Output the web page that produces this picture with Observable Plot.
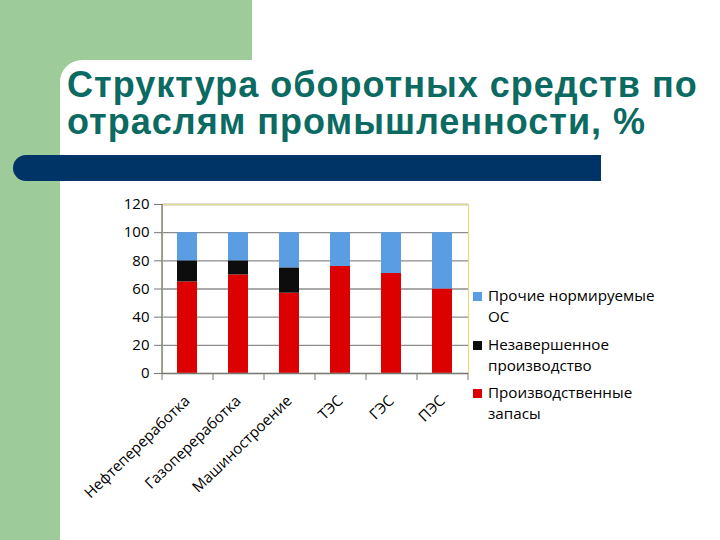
<!DOCTYPE html>
<html><head><meta charset="utf-8">
<script src="https://cdn.jsdelivr.net/npm/d3@7"></script>
<script src="https://cdn.jsdelivr.net/npm/@observablehq/plot@0.6"></script>
<style>
html,body{margin:0;padding:0;}
body{width:720px;height:540px;position:relative;overflow:hidden;background:#9dcb9a;font-family:"Open Sans",sans-serif;}
#white{position:absolute;left:60px;top:60px;width:660px;height:480px;background:#fff;border-top-left-radius:22px;}
#greenTop{position:absolute;left:252px;top:0;width:468px;height:60px;background:#fff;}
#title{position:absolute;left:67px;top:66px;font-family:"Liberation Sans",Arial,sans-serif;font-weight:bold;font-size:36px;letter-spacing:1px;line-height:37px;color:#0b6a62;white-space:nowrap;}
#bar{position:absolute;left:13px;top:155px;width:588px;height:26px;background:#003466;border-top-left-radius:13px;border-bottom-left-radius:13px;}
#chart{position:absolute;left:70px;top:190px;}
#legend{position:absolute;left:472px;top:285px;font-family:"Open Sans",sans-serif;font-size:15.2px;line-height:21px;color:#000;}
.li{position:relative;padding-left:16px;margin-bottom:6.5px;}
.sw{position:absolute;left:1px;top:7px;width:9px;height:9px;}
</style></head>
<body>
<div id="greenTop"></div>
<div id="white"></div>
<div id="title">Структура оборотных средств по<br>отраслям промышленности, %</div>
<div id="bar"></div>
<div id="chart"></div>
<div id="legend"></div>
<script>
const categories = ["Нефтепереработка","Газопереработка","Машиностроение","ТЭС","ГЭС","ПЭС"];
const seriesNames = ["Производственные запасы","Незавершенное производство","Прочие нормируемые ОС"];
const zapasy  = [65, 70, 57, 76, 71, 60];
const nezav   = [15, 10, 18, 0, 0, 0];
const prochie = [20, 20, 25, 24, 29, 40];
const yTicks = [0, 20, 40, 60, 80, 100, 120];
const colors = ["#dc0000", "#0d0d0d", "#5b9de2"];
const legendLines = [["Прочие нормируемые","ОС"],["Незавершенное","производство"],["Производственные","запасы"]];

const rows = [];
[zapasy, nezav, prochie].forEach((arr, s) => {
  arr.forEach((v, i) => rows.push({cat: categories[i], series: seriesNames[s], value: v}));
});

const W = 420, H = 325;
const mL = 92, mR = 22, mT = 14, mB = 142;
const step = (W - mL - mR) / categories.length;

const chart = Plot.plot({
  width: W, height: H,
  marginLeft: mL, marginRight: mR, marginTop: mT, marginBottom: mB,
  style: {fontFamily: "Open Sans, sans-serif", fontSize: "15px", color: "#000", background: "transparent", overflow: "visible"},
  x: {domain: categories, padding: 0.6, paddingOuter: 0.3, align: 0.5, label: null},
  y: {domain: [0, 120], label: null},
  color: {domain: seriesNames, range: colors},
  marks: [
    Plot.gridY(yTicks.slice(1), {stroke: "#8c8c8c", strokeOpacity: 1, strokeWidth: 1.3}),
    Plot.barY(rows, Plot.stackY({order: seriesNames}, {x: "cat", y: "value", fill: "series"})),
    Plot.frame({stroke: "#e3d98a", strokeWidth: 1.2}),
    Plot.ruleY([0], {stroke: "#777", strokeWidth: 1.3}),
    Plot.axisY(yTicks, {tickSize: 8, tickPadding: 5, stroke: "#777", fontSize: 15, label: null}),
    Plot.ruleX([0], {x: () => categories[0], dx: -step/2, stroke: "#777", strokeWidth: 1.3}),
    Plot.axisX({ticks: categories, tickSize: 7, text: null, dx: -step/2, stroke: "#777", label: null}),
    Plot.axisX({ticks: [categories[categories.length-1]], tickSize: 7, text: null, dx: step/2, stroke: "#777", label: null}),
    Plot.axisX({ticks: categories, tickSize: 0, tickRotate: -44, tickPadding: 25, dx: 0, fontSize: 15, textAnchor: "end", label: null})
  ]
});
document.getElementById("chart").appendChild(chart);

const leg = document.getElementById("legend");
legendLines.forEach((lines, i) => {
  const div = document.createElement("div");
  div.className = "li";
  const sw = document.createElement("span");
  sw.className = "sw";
  sw.style.background = colors[2 - i];
  div.appendChild(sw);
  div.appendChild(document.createTextNode(lines[0]));
  div.appendChild(document.createElement("br"));
  div.appendChild(document.createTextNode(lines[1]));
  leg.appendChild(div);
});
</script>
</body></html>
